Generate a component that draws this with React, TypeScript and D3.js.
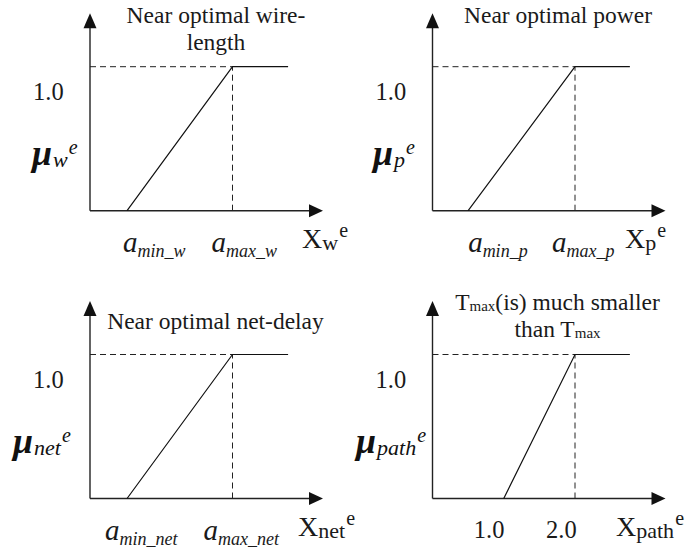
import * as d3 from 'd3';

// membership functions (x in axis units, y = membership degree)
const titles = [
  ['Near optimal wire-', 'length'],
  ['Near optimal power'],
  ['Near optimal net-delay'],
  ['T{max}(is) much smaller', 'than T{max}'],
];
const subNames = ['w', 'p', 'net', 'path'];
const aMin = [0.52, 0.5, 0.52, 1.0];
const aMax = [2.0, 2.0, 2.0, 2.0];
const plateauEnd = [2.78, 2.77, 2.78, 2.77];
const xAxisMax = 3.27;
const yTickLabel = '1.0';
const xTickLabels = [
  [['a', 'min_w'], ['a', 'max_w']],
  [['a', 'min_p'], ['a', 'max_p']],
  [['a', 'min_net'], ['a', 'max_net']],
  [['1.0', ''], ['2.0', '']],
];

// layout of the four panels (axis origin in px) and label nudges
const origins = [[90, 210.7], [432.5, 210.7], [90, 498.5], [432.5, 498.5]];
const titleDy = [-187.7, -187.7, -169.5, -188.5];
const titleDx = [126, 125.5, 125.5, 125];
const muDx = [-58, -59.5, -77, -76.5];
const xLabelDx = [212, 192.5, 208, 183.5];
const tickDx = [[-4, -21], [0, -23], [-22, -29], [-30, -29]];

const FONT = '"Liberation Serif", "Times New Roman", serif';
const AXIS_W = 233;
const Y_ONE = 144;
const Y_AXIS_H = 197.5;

function TitleLine({ text, x, y }: { text: string; x: number; y: number }) {
  const parts = text.split(/(\{[^}]*\})/).filter(s => s.length);
  return (
    <text x={x} y={y} textAnchor="middle" fontSize={23.5} fontFamily={FONT} fill="#1a1a1a">
      {parts.map((p, i) =>
        p.startsWith('{') ? (
          <tspan key={i} fontSize={15} dy={1}>{p.slice(1, -1)}</tspan>
        ) : (
          <tspan key={i} dy={i > 0 && parts[i - 1].startsWith('{') ? -1 : 0}>{p}</tspan>
        )
      )}
    </text>
  );
}

function Panel({ i }: { i: number }) {
  const [ox, oy] = origins[i];
  const x = d3.scaleLinear().domain([0, xAxisMax]).range([ox, ox + AXIS_W]);
  const y = d3.scaleLinear().domain([0, 1]).range([oy, oy - Y_ONE]);
  const pts: [number, number][] = [[aMin[i], 0], [aMax[i], 1], [plateauEnd[i], 1]];
  const line = d3.line<[number, number]>().x(d => x(d[0])).y(d => y(d[1]));
  const xTip = x(xAxisMax);
  const yTip = oy - Y_AXIS_H;
  const sub = subNames[i];

  return (
    <g>
      {/* axes */}
      <line x1={ox} y1={oy} x2={xTip - 10} y2={oy} stroke="#222" strokeWidth={1.4} />
      <line x1={ox} y1={oy} x2={ox} y2={yTip + 10} stroke="#222" strokeWidth={1.4} />
      <path d={`M${xTip},${oy} L${xTip - 14},${oy - 6.5} L${xTip - 14},${oy + 6.5} Z`} fill="#111" />
      <path d={`M${ox},${yTip} L${ox - 6.5},${yTip + 15} L${ox + 6.5},${yTip + 15} Z`} fill="#111" />

      {/* guides */}
      <line x1={ox} y1={y(1)} x2={x(aMax[i])} y2={y(1)} stroke="#222" strokeWidth={1} strokeDasharray="6,4" />
      <line x1={x(aMax[i])} y1={y(0)} x2={x(aMax[i])} y2={y(1)} stroke="#222" strokeWidth={1} strokeDasharray="6,4" />

      {/* membership function */}
      <path d={line(pts) ?? ''} fill="none" stroke="#111" strokeWidth={1.2} />

      {/* title */}
      {titles[i].map((t, k) => (
        <TitleLine key={k} text={t} x={ox + titleDx[i]} y={oy + titleDy[i] + k * 27} />
      ))}

      {/* y tick label */}
      <text x={ox - 57} y={y(1) + 33} fontSize={24.5} fontFamily={FONT} fill="#1a1a1a">{yTickLabel}</text>

      {/* y axis label */}
      <text x={ox + muDx[i]} y={oy - 46} fontFamily={FONT} fill="#111" fontStyle="italic">
        <tspan fontSize={36} fontWeight="bold">μ</tspan>
        <tspan fontSize={22} dx={1} dy={2}>{sub}</tspan>
        <tspan fontSize={20} dx={1} dy={-13}>e</tspan>
      </text>

      {/* x tick labels */}
      {[aMin[i], aMax[i]].map((v, k) => {
        const [base, s] = xTickLabels[i][k];
        const numeric = s === '';
        return (
          <text key={k} x={x(v) + tickDx[i][k]} y={oy + (numeric ? 39.5 : 41)} fontFamily={FONT} fill="#1a1a1a">
            <tspan fontSize={numeric ? 24.5 : 29} fontStyle={numeric ? 'normal' : 'italic'}>{base}</tspan>
            {!numeric && <tspan fontSize={18} fontStyle="italic" dy={5}>{s}</tspan>}
          </text>
        );
      })}

      {/* x axis label */}
      <text x={ox + xLabelDx[i]} y={oy + 37.3} fontFamily={FONT} fill="#1a1a1a">
        <tspan fontSize={28}>X</tspan>
        <tspan fontSize={22} dy={2}>{sub}</tspan>
        <tspan fontSize={20} dx={1} dy={-13}>e</tspan>
      </text>
    </g>
  );
}

export default function App() {
  return (
    <div style={{ position: 'absolute', left: 0, top: 0 }}>
      <svg width={686} height={551} style={{ display: 'block', background: '#fff' }}>
        {origins.map((_, i) => (
          <Panel key={i} i={i} />
        ))}
      </svg>
    </div>
  );
}
